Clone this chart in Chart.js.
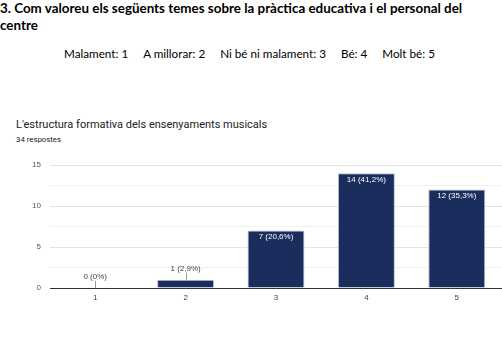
<!DOCTYPE html>
<html>
<head>
<meta charset="utf-8">
<script src="https://cdn.jsdelivr.net/npm/chart.js@4"></script>
<style>
  body { margin: 0; background: #fff; width: 502px; height: 340px; position: relative; overflow: hidden; }
  .q { position: absolute; left: 0; top: 0; font-family: Lato, sans-serif; font-weight: bold; font-size: 13.4px; line-height: 17px; color: #000; }
  .scale { position: absolute; left: 64px; top: 46px; font-family: Lato, sans-serif; font-size: 11.7px; color: #000; white-space: nowrap; }
  .scale span { margin-right: 15px; }
  .title { position: absolute; left: 16px; top: 118px; font-family: Roboto, sans-serif; font-size: 11px; color: #202124; }
  .count { position: absolute; left: 16px; top: 135px; font-family: Roboto, sans-serif; font-size: 7.8px; color: #202124; }
  .wrap { position: absolute; left: 0; top: 150px; width: 502px; height: 160px; }
</style>
</head>
<body>
<div class="q">3. Com valoreu els següents temes sobre la pràctica educativa i el personal del<br>centre</div>
<div class="scale"><span>Malament: 1</span><span>A millorar: 2</span><span>Ni bé ni malament: 3</span><span>Bé: 4</span><span style="margin-right:0">Molt bé: 5</span></div>
<div class="title">L'estructura formativa dels ensenyaments musicals</div>
<div class="count">34 respostes</div>
<div class="wrap"><canvas id="myChart" width="502" height="160"></canvas></div>
<script>
var categories = ['1', '2', '3', '4', '5'];
var counts = [0, 1, 7, 14, 12];
var yTicks = [0, 5, 10, 15];
var total = counts.reduce(function (a, b) { return a + b; }, 0);

function pctLabel(v) {
  if (v === 0) return '0 (0%)';
  return v + ' (' + (v / total * 100).toFixed(1).replace('.', ',') + '%)';
}

// value labels: white inside tall bars, gray with a leader line above short ones
var barLabels = {
  id: 'barLabels',
  afterDatasetsDraw: function (chart) {
    var ctx = chart.ctx;
    var meta = chart.getDatasetMeta(0);
    ctx.save();
    ctx.font = '8px "Liberation Sans", Arial, sans-serif';
    ctx.textAlign = 'center';
    ctx.textBaseline = 'middle';
    meta.data.forEach(function (bar, i) {
      var text = pctLabel(counts[i]);
      var h = bar.base - bar.y;
      if (h > 16) {
        ctx.fillStyle = '#ffffff';
        ctx.fillText(text, bar.x, bar.y + 6.5);
      } else {
        ctx.strokeStyle = '#999999';
        ctx.lineWidth = 1;
        ctx.beginPath();
        ctx.moveTo(Math.round(bar.x) + 0.5, bar.y);
        ctx.lineTo(Math.round(bar.x) + 0.5, bar.y - 7);
        ctx.stroke();
        ctx.fillStyle = '#444444';
        ctx.fillText(text, bar.x, bar.y - 11);
      }
    });
    ctx.restore();
  }
};

var ctx = document.getElementById('myChart').getContext('2d');
var myChart = new Chart(ctx, {
  type: 'bar',
  data: {
    labels: categories,
    datasets: [{
      data: counts,
      backgroundColor: '#1a2d5c',
      borderColor: '#b9c1d8',
      borderWidth: { top: 1, left: 1, right: 1, bottom: 0 },
      categoryPercentage: 1,
      barPercentage: 0.63
    }]
  },
  plugins: [barLabels],
  options: {
    responsive: false,
    animation: false,
    layout: { padding: { top: 15, right: 0, bottom: 0, left: 0 } },
    plugins: { legend: { display: false }, tooltip: { enabled: false } },
    scales: {
      x: {
        grid: { display: false, drawTicks: false },
        border: { display: true, color: '#333333', width: 1 },
        ticks: {
          color: '#444444',
          padding: 5,
          font: { size: 8, family: '"Liberation Sans", Arial, sans-serif' }
        },
        afterFit: function (scale) { scale.height = 22; }
      },
      y: {
        min: 0,
        max: 15,
        grid: {
          color: function (c) {
            return c.tick.value % 5 === 0 ? '#e4e4e4' : '#f0f0f0';
          },
          drawTicks: false
        },
        border: { display: false },
        ticks: {
          stepSize: 2.5,
          autoSkip: false,
          padding: 9,
          color: '#555555',
          font: { size: 8, family: '"Liberation Sans", Arial, sans-serif' },
          callback: function (value) {
            return yTicks.indexOf(value) >= 0 ? value : '';
          }
        },
        afterFit: function (scale) { scale.width = 50; }
      }
    }
  }
});
</script>
</body>
</html>
